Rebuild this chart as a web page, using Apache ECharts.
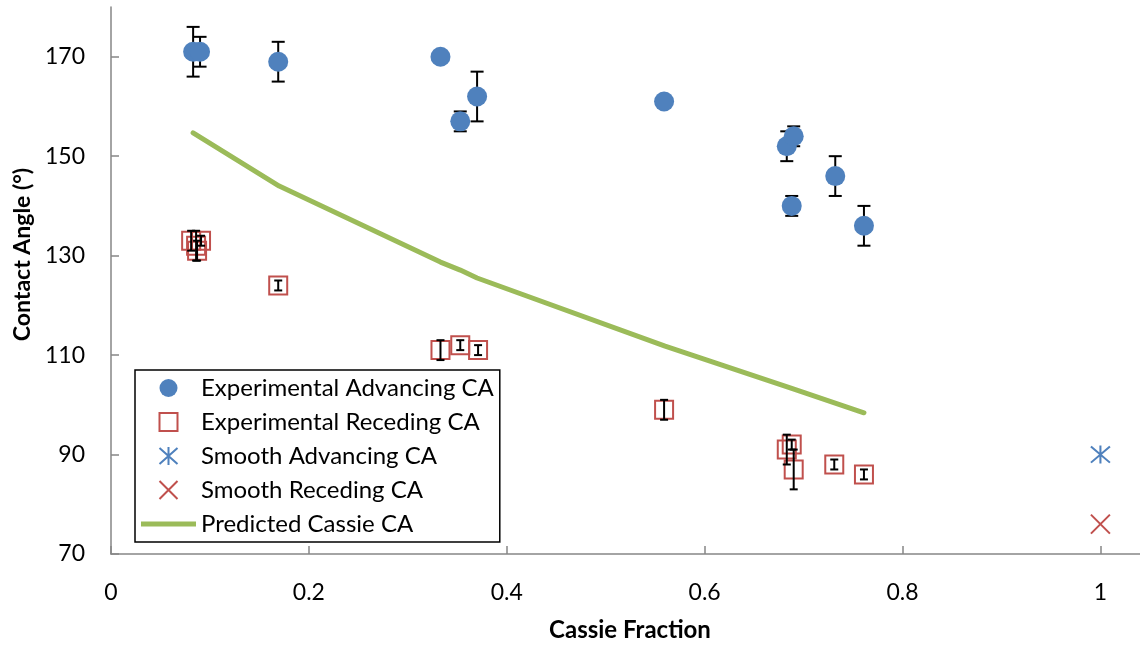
<!DOCTYPE html>
<html>
<head>
<meta charset="utf-8">
<title>Contact Angle vs Cassie Fraction</title>
<script src="https://cdn.jsdelivr.net/npm/echarts@6/dist/echarts.min.js"></script>
<style>
  html, body { margin: 0; padding: 0; background: #ffffff; }
  #chart { width: 1140px; height: 647px; }
</style>
</head>
<body>
<div id="chart"></div>
<script>
// Experimental advancing contact angles (fraction, angle, +/- error)
const advX   = [0.083, 0.090, 0.169, 0.333, 0.353, 0.370, 0.559, 0.683, 0.690, 0.688, 0.732, 0.761];
const advY   = [171, 171, 169, 170, 157, 162, 161, 152, 154, 140, 146, 136];
const advErr = [5, 3, 4, 0, 2, 5, 0, 3, 2, 2, 4, 4];

// Experimental receding contact angles
const recX   = [0.081, 0.086, 0.091, 0.087, 0.169, 0.333, 0.353, 0.371, 0.559, 0.683, 0.688, 0.690, 0.731, 0.761];
const recY   = [133, 132, 133, 131, 124, 111, 112, 111, 99, 91, 92, 87, 88, 86];
const recErr = [2, 3, 1, 2, 1, 2, 1, 1, 2, 3, 1, 4, 1, 1];

// Smooth surface reference values
const smoothAdvX = [1];
const smoothAdvY = [90];
const smoothRecX = [1];
const smoothRecY = [76];

// Cassie-Baxter prediction
const cassX = [0.083, 0.17, 0.333, 0.353, 0.37, 0.56, 0.688, 0.761];
const cassY = [154.7, 144, 128.7, 127.1, 125.5, 111.8, 103.3, 98.4];

// Axis ticks
const xTicks = [0, 0.2, 0.4, 0.6, 0.8, 1];
const yTicks = [70, 90, 110, 130, 150, 170];

const BLUE = '#4F81BD';
const RED = '#C0504D';
const GREEN = '#9BBB59';
const FONT = 'Lato';

const pairs = (xs, ys) => xs.map((x, i) => [x, ys[i]]);
const errRows = (xs, ys, es) => xs.map((x, i) => [x, ys[i] - es[i], ys[i] + es[i]]);

function errorBarRenderer(capHalf) {
  return function (params, api) {
    const x = api.value(0);
    const lo = api.coord([x, api.value(1)]);
    const hi = api.coord([x, api.value(2)]);
    if (Math.abs(hi[1] - lo[1]) < 0.5) return null;
    const style = { stroke: '#000000', lineWidth: 2 };
    return {
      type: 'group',
      children: [
        { type: 'line', shape: { x1: lo[0], y1: lo[1], x2: hi[0], y2: hi[1] }, style },
        { type: 'line', shape: { x1: lo[0] - capHalf, y1: lo[1], x2: lo[0] + capHalf, y2: lo[1] }, style },
        { type: 'line', shape: { x1: hi[0] - capHalf, y1: hi[1], x2: hi[0] + capHalf, y2: hi[1] }, style }
      ]
    };
  };
}

const SQUARE = 'path://M0 0 L10 0 L10 10 L0 10 Z';
const ASTERISK = 'path://M10 0 L10 20 M0 1 L20 19 M0 19 L20 1';
const CROSS = 'path://M0 0 L20 20 M0 20 L20 0';
const BAR = 'path://M0 0 L60 0 L60 5.5 L0 5.5 Z';

const chart = echarts.init(document.getElementById('chart'), null, { renderer: 'canvas' });

chart.setOption({
  animation: false,
  backgroundColor: '#ffffff',
  textStyle: { fontFamily: FONT },
  grid: { left: 111, right: 0, top: 7, bottom: 90, containLabel: false },
  xAxis: {
    type: 'value',
    min: 0,
    max: 1.04,
    interval: 0.04,
    name: 'Cassie Fraction',
    nameLocation: 'middle',
    nameGap: 64,
    nameTextStyle: { fontFamily: FONT, fontWeight: 'bold', fontSize: 24, color: '#000000', padding: [0, 0, 0, 9] },
    axisLine: { show: true, lineStyle: { color: '#868686', width: 1.5 } },
    axisTick: { show: true, inside: true, length: 8, customValues: xTicks, lineStyle: { color: '#868686', width: 1.5 } },
    axisLabel: { customValues: xTicks, margin: 27, fontSize: 23, color: '#000000', fontFamily: FONT },
    splitLine: { show: false }
  },
  yAxis: {
    type: 'value',
    min: 70,
    max: 180,
    interval: 10,
    name: 'Contact Angle (°)',
    nameLocation: 'middle',
    nameGap: 73,
    nameTextStyle: { fontFamily: FONT, fontWeight: 'bold', fontSize: 23, color: '#000000', padding: [0, 0, 0, 52] },
    axisLine: { show: true, lineStyle: { color: '#868686', width: 1.5 } },
    axisTick: { show: true, inside: true, length: 8, customValues: yTicks, lineStyle: { color: '#868686', width: 1.5 } },
    axisLabel: { customValues: yTicks, margin: 26, fontSize: 23, color: '#000000', fontFamily: FONT },
    splitLine: { show: false }
  },
  legend: {
    orient: 'vertical',
    left: 135,
    top: 370,
    padding: [6, 6, 6, 6],
    itemWidth: 55,
    itemHeight: 18,
    itemGap: 10,
    itemTextGap: 5,
    symbolKeepAspect: true,
    borderColor: '#000000',
    borderWidth: 1.5,
    backgroundColor: '#ffffff',
    textStyle: { fontFamily: FONT, fontSize: 24, color: '#000000', lineHeight: 24 },
    data: [
      { name: 'Experimental Advancing CA' },
      { name: 'Experimental Receding CA', icon: SQUARE },
      { name: 'Smooth Advancing CA' },
      { name: 'Smooth Receding CA' },
      { name: 'Predicted Cassie CA', icon: BAR }
    ]
  },
  series: [
    {
      name: 'Predicted Cassie CA',
      type: 'line',
      data: pairs(cassX, cassY),
      showSymbol: false,
      symbol: 'none',
      z: 2,
      lineStyle: { color: GREEN, width: 5, cap: 'round', join: 'round' },
      itemStyle: { color: GREEN }
    },
    {
      name: 'adv-err',
      type: 'custom',
      renderItem: errorBarRenderer(6.5),
      data: errRows(advX, advY, advErr),
      z: 3,
      silent: true
    },
    {
      name: 'rec-err',
      type: 'custom',
      renderItem: errorBarRenderer(4),
      data: errRows(recX, recY, recErr),
      z: 5,
      silent: true
    },
    {
      name: 'Experimental Advancing CA',
      type: 'scatter',
      data: pairs(advX, advY),
      symbol: 'circle',
      symbolSize: 20,
      z: 4,
      itemStyle: { color: BLUE, opacity: 1 }
    },
    {
      name: 'Experimental Receding CA',
      type: 'scatter',
      data: pairs(recX, recY),
      symbol: SQUARE,
      symbolSize: 18,
      symbolKeepAspect: true,
      z: 4,
      itemStyle: { color: 'rgba(255,255,255,0)', borderColor: RED, borderWidth: 2, opacity: 1 }
    },
    {
      name: 'Smooth Advancing CA',
      type: 'scatter',
      data: pairs(smoothAdvX, smoothAdvY),
      symbol: ASTERISK,
      symbolSize: [19, 18],
      z: 4,
      itemStyle: { color: 'none', borderColor: BLUE, borderWidth: 2, opacity: 1 }
    },
    {
      name: 'Smooth Receding CA',
      type: 'scatter',
      data: pairs(smoothRecX, smoothRecY),
      symbol: CROSS,
      symbolSize: 19,
      z: 4,
      itemStyle: { color: 'none', borderColor: RED, borderWidth: 2, opacity: 1 }
    }
  ]
});
</script>
</body>
</html>
